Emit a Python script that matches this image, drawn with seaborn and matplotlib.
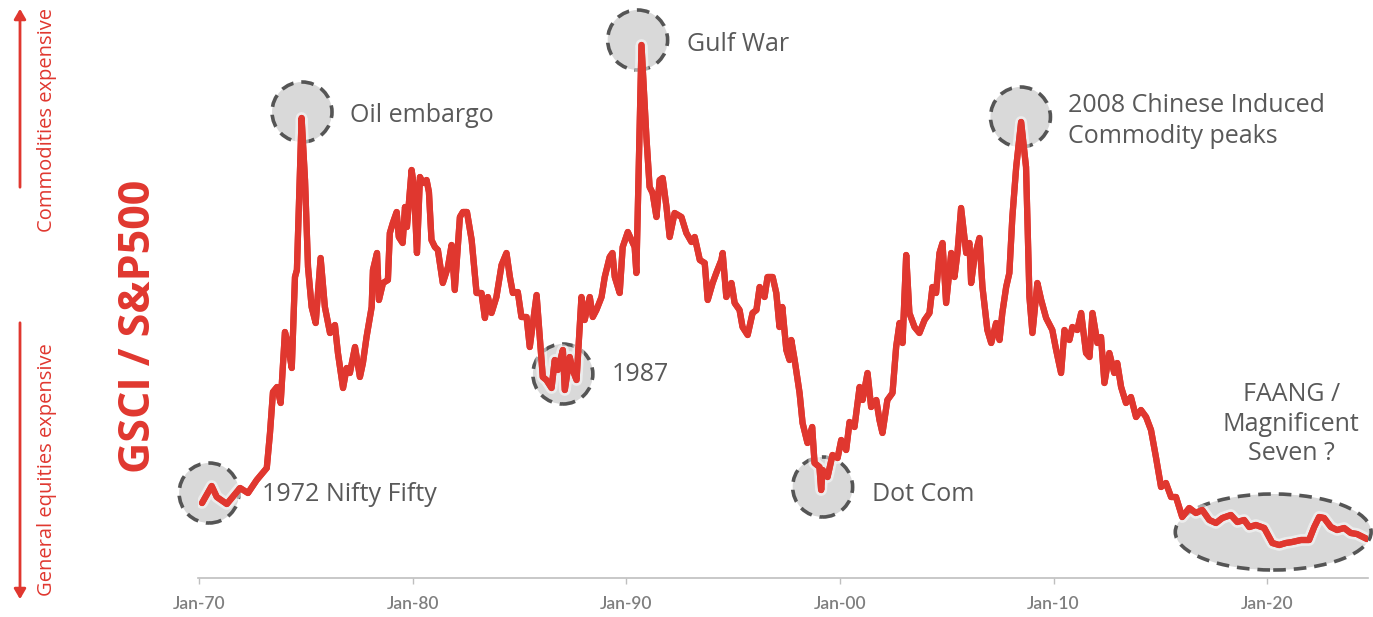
import matplotlib
matplotlib.use("Agg")
import matplotlib.pyplot as plt
import matplotlib.patheffects as pe
from matplotlib.patches import Ellipse, FancyArrowPatch
import seaborn as sns
import pandas as pd

# GSCI / S&P500 ratio (index), decimal years
years = [
    1970.14, 1970.59, 1970.83, 1971.30, 1971.92, 1972.29, 1972.70, 1973.17, 1973.32, 1973.46,
    1973.65, 1973.82, 1974.02, 1974.12, 1974.34, 1974.49, 1974.58, 1974.80, 1974.96, 1975.10,
    1975.27, 1975.46, 1975.69, 1975.89, 1976.13, 1976.36, 1976.50, 1976.74, 1976.91, 1977.06,
    1977.30, 1977.53, 1977.67, 1977.84, 1978.08, 1978.14, 1978.33, 1978.42, 1978.61, 1978.84,
    1978.93, 1979.07, 1979.25, 1979.35, 1979.53, 1979.64, 1979.73, 1979.95, 1980.06, 1980.20,
    1980.34, 1980.48, 1980.65, 1980.76, 1980.88, 1981.04, 1981.18, 1981.41, 1981.65, 1981.82,
    1981.97, 1982.21, 1982.35, 1982.54, 1982.76, 1982.99, 1983.22, 1983.38, 1983.52, 1983.69,
    1983.92, 1984.16, 1984.39, 1984.55, 1984.69, 1984.92, 1985.09, 1985.33, 1985.48, 1985.80,
    1985.95, 1986.09, 1986.26, 1986.50, 1986.65, 1986.79, 1987.03, 1987.12, 1987.35, 1987.49,
    1987.67, 1987.90, 1988.05, 1988.29, 1988.43, 1988.60, 1988.84, 1988.99, 1989.22, 1989.35,
    1989.46, 1989.69, 1989.83, 1990.07, 1990.24, 1990.39, 1990.47, 1990.71, 1990.94, 1991.09,
    1991.23, 1991.41, 1991.56, 1991.70, 1991.88, 1992.03, 1992.26, 1992.58, 1992.81, 1993.05,
    1993.20, 1993.44, 1993.67, 1993.81, 1994.04, 1994.21, 1994.45, 1994.51, 1994.68, 1994.92,
    1995.07, 1995.30, 1995.44, 1995.68, 1995.91, 1996.09, 1996.24, 1996.47, 1996.61, 1996.85,
    1997.02, 1997.17, 1997.30, 1997.49, 1997.64, 1997.72, 1997.88, 1998.11, 1998.25, 1998.48,
    1998.70, 1998.81, 1999.04, 1999.12, 1999.19, 1999.42, 1999.65, 1999.89, 2000.06, 2000.29,
    2000.45, 2000.68, 2000.92, 2001.06, 2001.29, 2001.46, 2001.70, 2001.85, 2001.99, 2002.22,
    2002.46, 2002.63, 2002.79, 2002.93, 2003.10, 2003.25, 2003.49, 2003.72, 2003.96, 2004.19,
    2004.33, 2004.50, 2004.66, 2004.80, 2004.97, 2005.21, 2005.36, 2005.50, 2005.67, 2005.91,
    2006.06, 2006.14, 2006.30, 2006.53, 2006.67, 2006.90, 2007.08, 2007.31, 2007.47, 2007.60,
    2007.78, 2007.93, 2008.07, 2008.25, 2008.48, 2008.71, 2008.87, 2009.01, 2009.24, 2009.42,
    2009.65, 2009.94, 2010.12, 2010.35, 2010.51, 2010.74, 2010.88, 2011.11, 2011.29, 2011.52,
    2011.68, 2011.82, 2012.05, 2012.22, 2012.38, 2012.61, 2012.84, 2012.98, 2013.16, 2013.39,
    2013.62, 2013.86, 2014.09, 2014.33, 2014.56, 2014.79, 2015.03, 2015.26, 2015.50, 2015.73,
    2016.02, 2016.35, 2016.66, 2016.96, 2017.29, 2017.60, 2017.90, 2018.30, 2018.60, 2018.92,
    2019.16, 2019.47, 2019.86, 2020.24, 2020.56, 2020.87, 2021.17, 2021.58, 2021.96, 2022.20,
    2022.43, 2022.66, 2022.98, 2023.27, 2023.60, 2023.91, 2024.20, 2024.67,
]
ratio = [
    7.5, 9.2, 8.1, 7.4, 9.0, 8.5, 9.8, 11.0, 14.5, 18.6,
    19.1, 17.5, 24.6, 23.8, 21.0, 30.1, 30.8, 46.0, 39.8, 31.1,
    27.1, 25.5, 32.0, 27.1, 24.5, 25.3, 22.5, 19.0, 21.0, 20.5,
    23.1, 20.1, 21.5, 24.1, 27.1, 30.8, 32.5, 27.8, 29.5, 29.8,
    34.5, 35.5, 36.6, 34.1, 33.5, 37.1, 35.1, 40.8, 39.1, 32.5,
    40.1, 39.5, 39.8, 38.6, 33.8, 33.1, 32.8, 29.5, 31.1, 33.3,
    28.8, 36.1, 36.6, 36.6, 33.8, 28.5, 28.5, 26.0, 28.1, 26.5,
    28.1, 31.3, 32.5, 30.1, 28.5, 28.6, 26.1, 26.1, 23.1, 28.3,
    24.1, 20.1, 19.8, 19.0, 21.8, 20.8, 22.8, 18.8, 22.1, 20.8,
    19.8, 28.1, 25.8, 28.1, 26.1, 26.8, 28.1, 30.1, 32.1, 32.5,
    30.1, 28.5, 33.1, 34.6, 33.8, 33.1, 30.5, 53.3, 44.1, 39.1,
    38.5, 36.1, 39.8, 40.0, 37.1, 34.1, 36.5, 36.1, 34.5, 33.6,
    34.1, 31.8, 31.5, 27.8, 29.5, 30.5, 31.8, 32.5, 28.1, 29.5,
    27.5, 26.8, 25.1, 24.3, 26.5, 26.8, 29.1, 28.1, 30.1, 30.1,
    28.5, 25.1, 27.1, 22.8, 21.8, 23.8, 21.8, 18.5, 15.5, 13.5,
    15.1, 11.5, 11.1, 8.8, 10.8, 10.1, 12.3, 12.0, 13.8, 12.8,
    15.6, 15.1, 19.1, 17.8, 20.5, 17.1, 17.8, 15.8, 14.5, 17.8,
    18.5, 23.1, 25.5, 23.5, 32.3, 26.5, 25.1, 24.5, 25.8, 26.5,
    29.1, 28.5, 32.5, 33.5, 27.5, 32.5, 30.1, 32.5, 37.0, 32.5,
    33.5, 29.5, 32.1, 34.0, 29.1, 24.8, 23.5, 25.5, 23.8, 26.5,
    29.1, 30.5, 36.1, 41.1, 45.6, 41.1, 28.1, 24.5, 29.5, 27.8,
    26.0, 24.8, 22.8, 20.5, 24.8, 23.8, 25.1, 24.8, 26.5, 22.5,
    22.1, 26.5, 23.5, 24.1, 19.5, 22.5, 20.5, 21.5, 19.1, 17.5,
    18.1, 16.1, 16.8, 16.1, 14.8, 12.1, 9.1, 9.5, 8.1, 8.1,
    6.1, 7.0, 6.5, 6.8, 5.8, 5.5, 6.0, 6.3, 5.6, 5.8,
    5.1, 5.3, 5.0, 3.5, 3.3, 3.5, 3.6, 3.8, 3.8, 5.1,
    6.1, 6.0, 5.1, 4.8, 5.0, 4.5, 4.4, 3.9,
]

tick_years = [1970, 1980, 1990, 2000, 2010, 2020]
tick_labels = ["Jan-70", "Jan-80", "Jan-90", "Jan-00", "Jan-10", "Jan-20"]

# event labels: (text, circle centre x, circle centre y, text x, text y)
events = [
    ("1972 Nifty Fifty", 1970.47, 8.5, 1972.93, 8.4),
    ("Oil embargo", 1974.82, 46.6, 1977.06, 46.3),
    ("1987", 1987.03, 20.4, 1989.32, 20.4),
    ("Gulf War", 1990.53, 53.8, 1992.84, 53.4),
    ("Dot Com", 1999.19, 9.1, 2001.48, 8.4),
    ("2008 Chinese Induced\nCommodity peaks", 2008.45, 46.1, 2010.69, 45.7),
]

red = "#E0372F"
grey_txt = "#595959"

df = pd.DataFrame({"year": years, "ratio": ratio})

sns.set_style("white")
plt.rcParams["font.family"] = ["Open Sans", "DejaVu Sans"]

fig = plt.figure(figsize=(13.73, 6.17), dpi=100)
ax = fig.add_axes([0.1442, 0.0632, 0.8522, 0.9368])

# px per unit: x 21.38 px/year, y 10 px/unit -> keep circles round
rx = 30 / 21.38
ry = 3.0
for label, cx, cy, tx, ty in events:
    ax.add_patch(Ellipse((cx, cy), 2 * rx, 2 * ry, facecolor="#D9D9D9", edgecolor="#555555",
                         lw=2.6, ls=(0, (3.5, 2.2)), zorder=1, clip_on=False))
    ax.text(tx, ty, label, fontsize=18, color=grey_txt, ha="left", va="center",
            linespacing=1.32, zorder=3)

# FAANG ellipse
ax.add_patch(Ellipse((2020.28, 4.6), 196 / 21.38, 7.6, facecolor="#D9D9D9", edgecolor="#555555",
                     lw=2.6, ls=(0, (3.5, 2.2)), zorder=1, clip_on=False))
ax.text(2021.12, 15.4, "FAANG /\nMagnificent\nSeven ?", fontsize=18, color=grey_txt,
        ha="center", va="center", linespacing=1.25, zorder=3)

sns.lineplot(data=df, x="year", y="ratio", ax=ax, color=red, lw=4.5, zorder=2,
             path_effects=[pe.withStroke(linewidth=8.5, foreground="white", alpha=0.5), pe.Normal()])

ax.set_xlim(1969.95, 2024.72)
ax.set_ylim(0, 57.8)
ax.set_xticks(tick_years)
ax.set_xticklabels(tick_labels, fontsize=12.5, color="#7F7F7F", fontweight="semibold",
                   family=["Lato", "DejaVu Sans"])
ax.set_yticks([])
ax.set_xlabel("")
ax.set_ylabel("")
for s in ["top", "right", "left"]:
    ax.spines[s].set_visible(False)
ax.spines["bottom"].set_color("#BFBFBF")
ax.spines["bottom"].set_linewidth(1.2)
ax.tick_params(axis="x", direction="out", length=4, width=1.0, color="#BFBFBF", pad=9, bottom=True)

# left side titles and arrows
fig.text(138 / 1373, 1 - 326 / 617, "GSCI / S&P500", rotation=90, fontsize=31, fontweight="bold",
         color=red, ha="center", va="center")
fig.text(47 / 1373, 1 - 120 / 617, "Commodities expensive", rotation=90, fontsize=14.5,
         color=red, ha="center", va="center")
fig.text(47 / 1373, 1 - 470 / 617, "General equities expensive", rotation=90, fontsize=14.5,
         color=red, ha="center", va="center")
fig.patches.append(FancyArrowPatch(
    (20 / 1373, 1 - 190 / 617), (20 / 1373, 1 - 6 / 617), transform=fig.transFigure,
    arrowstyle="-|>,head_length=6,head_width=3.5", color=red, lw=2))
fig.patches.append(FancyArrowPatch(
    (20 / 1373, 1 - 320 / 617), (20 / 1373, 1 - 602 / 617), transform=fig.transFigure,
    arrowstyle="-|>,head_length=6,head_width=3.5", color=red, lw=2))

fig.savefig("out.png", dpi=100, facecolor="white")
